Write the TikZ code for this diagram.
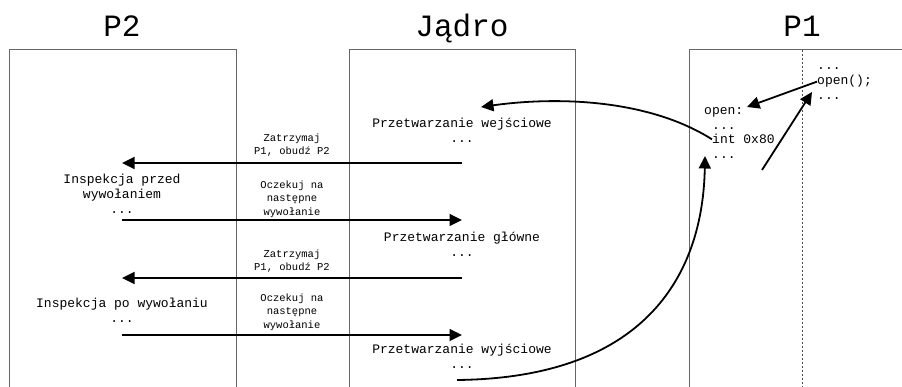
\documentclass[tikz,border=0pt]{standalone}
\usepackage{fontspec}
\setmainfont{Liberation Mono}
\usetikzlibrary{arrows.meta}

\begin{document}
\begin{tikzpicture}[
    x=1pt, y=-1pt,
    >={Triangle[length=12.5pt,width=12pt]}, 
    lane/.style={draw=black!60, line width=1pt},
    title/.style={font=\fontsize{31}{36}\selectfont, anchor=base},
    step text/.style={align=center, font=\fontsize{13}{15}\selectfont},
    msg/.style={align=center, font=\fontsize{10.5}{13.5}\selectfont},
    code/.style={anchor=base west, inner sep=0pt, font=\fontsize{13}{15}\selectfont},
    call/.style={->, line width=1.8pt}
]
    \useasboundingbox (0,0) rectangle (902,387);

    % --- Lanes ---
    \draw[lane] (9,387) -- (9,50) -- (236,50) -- (236,387);
    \draw[lane] (349,387) -- (349,50) -- (575,50) -- (575,387);
    \draw[lane] (689,387) -- (689,50) -- (902,50);
    \draw[black!70, line width=1pt, dash pattern=on 2pt off 2pt] (802,50) -- (802,387);

    \node[title] (P2) at (122,37) {P2};
    \node[title] (Kernel) at (462,37) {Jądro};
    \node[title] (P1) at (802,37) {P1};

    % --- Kernel side ---
    \node[step text] (Entry) at (462,130) {Przetwarzanie wejściowe\\...};
    \node[step text] (Main) at (462,244) {Przetwarzanie główne\\...};
    \node[step text] (Exit) at (462,356) {Przetwarzanie wyjściowe\\...};

    % --- P2 side ---
    \node[step text] (PreCall) at (122,194) {Inspekcja przed\\wywołaniem\\...};
    \node[step text] (PostCall) at (122,310) {Inspekcja po wywołaniu\\...};

    % --- Messages ---
    \node[msg] (Stop1) at (292,145) {Zatrzymaj\\P1, obudź P2};
    \node[msg] (Wait1) at (292,199) {Oczekuj na\\następne\\wywołanie};
    \node[msg] (Stop2) at (292,261) {Zatrzymaj\\P1, obudź P2};
    \node[msg] (Wait2) at (292,312) {Oczekuj na\\następne\\wywołanie};

    % --- P1 code ---
    \node[code] (OpenLbl) at (704,115) {open:};
    \node[code] (Dots1) at (712,129.5) {...};
    \node[code] (Int) at (712,144) {int 0x80};
    \node[code] (Dots2) at (712,158.5) {...};

    \node[code] (Dots3) at (817,70) {...};
    \node[code] (OpenCall) at (817,85) {open();};
    \node[code] (Dots4) at (817,100) {...};

    % --- Arrow ends ---
    \coordinate (k1) at (462,163);
    \coordinate (u1) at (122,163);
    \coordinate (u2) at (122,220);
    \coordinate (k2) at (462,220);
    \coordinate (k3) at (462,278);
    \coordinate (u3) at (122,278);
    \coordinate (u4) at (122,335);
    \coordinate (k4) at (462,335);
    \coordinate (ret) at (457,380);
    \coordinate (back) at (762,170);
    \coordinate (entryIn) at (481,107);
    \coordinate (intIn) at (705,156);
    \coordinate (openIn) at (747,107);
    \coordinate (callIn) at (812,92);

    % --- EDGES ---
    \draw[call] (k1) -- (u1);
    \draw[call] (u2) -- (k2);
    \draw[call] (k3) -- (u3);
    \draw[call] (u4) -- (k4);

    \draw[call] (Int.west) .. controls (650,100) and (560,96) .. (entryIn);
    \draw[call] (ret) .. controls (650,378) and (703,270) .. (intIn);
    \draw[call] (OpenCall.west) -- (openIn);
    \draw[call] (back) -- (callIn);

\end{tikzpicture}
\end{document}
